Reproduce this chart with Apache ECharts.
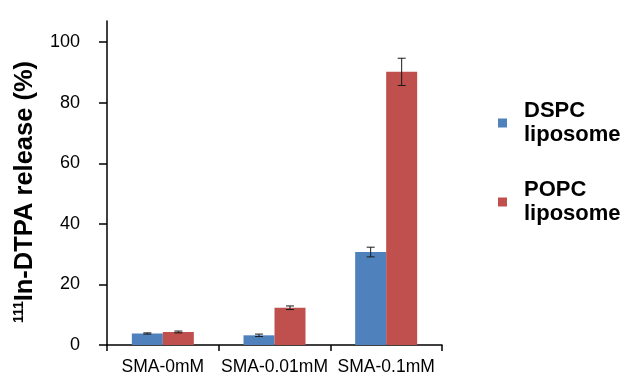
<!DOCTYPE html>
<html>
<head>
<meta charset="utf-8">
<script src="https://cdn.jsdelivr.net/npm/echarts@6/dist/echarts.min.js"></script>
<style>html,body{margin:0;padding:0;background:#fff}#c{width:624px;height:376px}</style>
</head>
<body>
<div id="c"></div>
<script>
var categories = ['SMA-0mM', 'SMA-0.01mM', 'SMA-0.1mM'];
var seriesNames = ['DSPC liposome', 'POPC liposome'];
var dspcValues = [3.8, 3.2, 30.7];
var dspcErrors = [0.2, 0.4, 1.6];
var popcValues = [4.3, 12.3, 90.2];
var popcErrors = [0.3, 0.6, 4.5];
var yTickValues = [0, 20, 40, 60, 80, 100];

var BAR_W = 31;
var colors = ['#4F81BD', '#C0504D'];

function errData(vals, errs) {
  return vals.map(function (v, i) { return [i, v - errs[i], v + errs[i]]; });
}
function errSeries(vals, errs, side) {
  return {
    type: 'custom',
    z: 5,
    silent: true,
    data: errData(vals, errs),
    encode: { x: 0, y: [1, 2] },
    renderItem: function (params, api) {
      var lo = api.coord([api.value(0), api.value(1)]);
      var hi = api.coord([api.value(0), api.value(2)]);
      var x = lo[0] + side * BAR_W / 2;
      var cap = 4;
      var st = { stroke: '#1a1a1a', lineWidth: 1 };
      return {
        type: 'group',
        children: [
          { type: 'line', shape: { x1: x, y1: lo[1], x2: x, y2: hi[1] }, style: st },
          { type: 'line', shape: { x1: x - cap, y1: lo[1], x2: x + cap, y2: lo[1] }, style: st },
          { type: 'line', shape: { x1: x - cap, y1: hi[1], x2: x + cap, y2: hi[1] }, style: st }
        ]
      };
    }
  };
}

var chart = echarts.init(document.getElementById('c'), null, { renderer: 'canvas' });
chart.setOption({
  animation: false,
  backgroundColor: '#ffffff',
  textStyle: { fontFamily: 'Liberation Sans, Arial, sans-serif' },
  grid: { left: 107, right: 182, top: 21, bottom: 28.5, containLabel: false },
  legend: {
    data: seriesNames,
    orient: 'vertical',
    left: 493,
    top: 82,
    itemWidth: 9,
    itemHeight: 9,
    itemGap: 7,
    icon: 'rect',
    formatter: function (n) { return n.replace(' ', '\n'); },
    textStyle: { fontSize: 22, fontWeight: 'bold', color: '#000', lineHeight: 24, padding: [24, 0, 0, 12], fontFamily: 'Liberation Sans, Arial, sans-serif' }
  },
  xAxis: {
    type: 'category',
    data: categories,
    axisLine: { lineStyle: { color: '#000', width: 1.5 } },
    axisTick: { show: true, alignWithLabel: false, length: 6, lineStyle: { color: '#000', width: 1.5 } },
    axisLabel: { fontSize: 17.5, color: '#000', margin: 13, interval: 0 }
  },
  yAxis: {
    type: 'value',
    min: 0,
    max: 107,
    interval: 20,
    splitLine: { show: false },
    axisLine: { show: true, lineStyle: { color: '#000', width: 1.5 } },
    axisTick: { show: true, length: 8, customValues: yTickValues, lineStyle: { color: '#000', width: 1.5 } },
    axisLabel: { fontSize: 18, color: '#000', margin: 27, customValues: yTickValues },
    name: '{sup|111}{main|In-DTPA release (%)}',
    nameLocation: 'middle',
    nameGap: 69,
    nameTextStyle: {
      padding: [0, 18, 0, 0],
      rich: {
        sup: { fontSize: 14, fontWeight: 'bold', color: '#000', verticalAlign: 'top', fontFamily: 'Liberation Sans, Arial, sans-serif' },
        main: { fontSize: 25.5, fontWeight: 'bold', color: '#000', fontFamily: 'Liberation Sans, Arial, sans-serif' }
      }
    }
  },
  series: [
    { name: seriesNames[0], type: 'bar', data: dspcValues, barWidth: BAR_W, barGap: '0%', itemStyle: { color: colors[0] } },
    { name: seriesNames[1], type: 'bar', data: popcValues, barWidth: BAR_W, barGap: '0%', itemStyle: { color: colors[1] } },
    errSeries(dspcValues, dspcErrors, -1),
    errSeries(popcValues, popcErrors, 1)
  ]
});
</script>
</body>
</html>
